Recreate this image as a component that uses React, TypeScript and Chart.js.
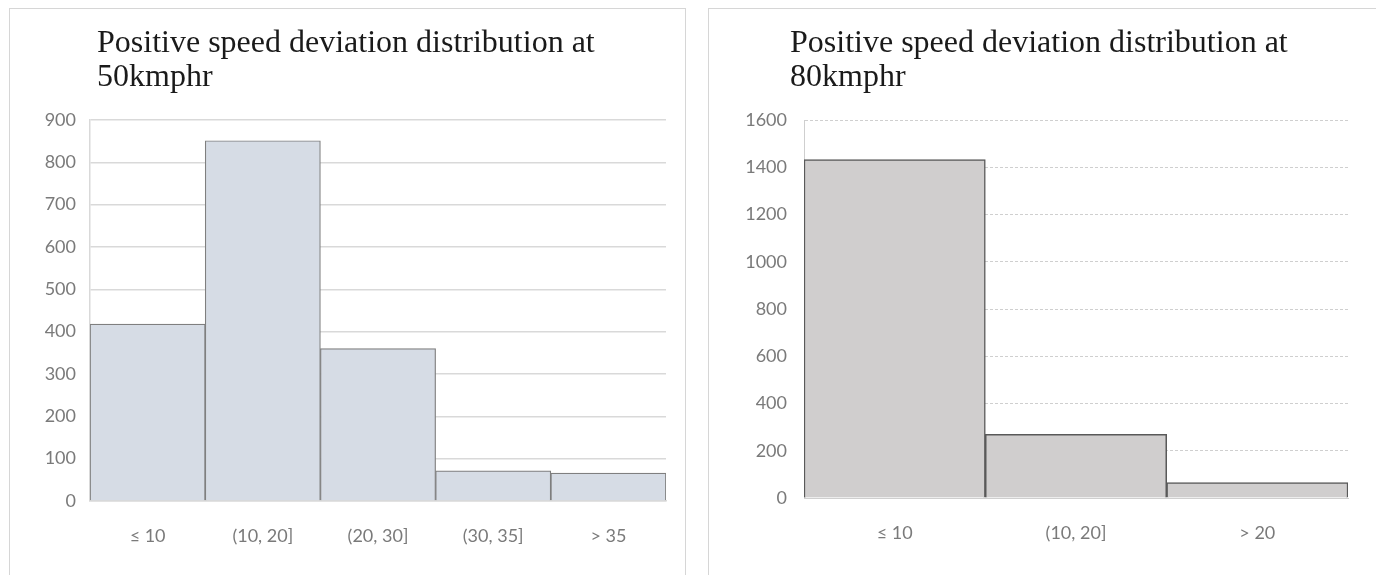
import React, { useEffect, useRef } from "react";
import { Chart, registerables } from "chart.js";

Chart.register(...registerables);

// ---- data ----
const leftTitle = ["Positive speed deviation distribution at", "50kmphr"];
const leftCategories = ["≤ 10", "(10, 20]", "(20, 30]", "(30, 35]", "> 35"];
const leftValues = [418, 851, 360, 71, 66];
const leftYTicks = [0, 100, 200, 300, 400, 500, 600, 700, 800, 900];

const rightTitle = ["Positive speed deviation distribution at", "80kmphr"];
const rightCategories = ["≤ 10", "(10, 20]", "> 20"];
const rightValues = [1432, 270, 65];
const rightYTicks = [0, 200, 400, 600, 800, 1000, 1200, 1400, 1600];

const panelTitle = {
  id: "panelTitle",
  afterDraw(chart: any, _args: any, opts: any) {
    const ctx = chart.ctx;
    ctx.save();
    ctx.font = opts.font;
    ctx.fillStyle = opts.color;
    ctx.textAlign = "left";
    ctx.textBaseline = "middle";
    (opts.lines as string[]).forEach((l, i) => ctx.fillText(l, opts.x, opts.y + i * opts.lineHeight));
    ctx.restore();
  },
};

type PanelProps = {
  title: string[];
  categories: string[];
  values: number[];
  yTicks: number[];
  width: number;
  height: number;
  fill: string;
  stroke: string;
  barBorder: number;
  gridColor: string;
  gridWidth: number;
  dash: number[];
  padding: { left: number; right: number; top: number; bottom: number };
  yAxisWidth: number;
  yTickPad: number;
  titleX: number;
};

function Panel(p: PanelProps) {
  const ref = useRef<HTMLCanvasElement | null>(null);
  useEffect(() => {
    if (!ref.current) return;
    const tickFont = { family: "Lato, 'Liberation Sans', sans-serif", size: 18 };
    const chart = new Chart(ref.current, {
      type: "bar",
      data: {
        labels: p.categories,
        datasets: [
          {
            data: p.values,
            backgroundColor: p.fill,
            borderColor: p.stroke,
            borderWidth: p.barBorder,
            borderSkipped: "bottom",
            categoryPercentage: 1,
            barPercentage: 1,
          },
        ],
      },
      options: {
        animation: false,
        responsive: false,
        devicePixelRatio: 1,
        layout: { padding: p.padding },
        plugins: {
          legend: { display: false },
          tooltip: { enabled: false },
          title: { display: false },
          panelTitle: {
            lines: p.title,
            x: p.titleX,
            y: 35,
            lineHeight: 34,
            font: "32px 'Liberation Serif', 'Times New Roman', serif",
            color: "#1a1a1a",
          },
        } as any,
        scales: {
          x: {
            grid: { display: false, drawTicks: false },
            border: { display: true, color: p.gridColor, width: p.gridWidth, dash: p.dash },
            ticks: { color: "#7a7a7a", font: tickFont, padding: 24, maxRotation: 0 },
            afterFit: (s: any) => {
              s.height = 45;
            },
          },
          y: {
            min: p.yTicks[0],
            max: p.yTicks[p.yTicks.length - 1],
            grid: { color: p.gridColor, lineWidth: p.gridWidth, drawTicks: false },
            border: { display: true, color: p.gridColor, width: p.gridWidth, dash: p.dash },
            afterBuildTicks: (s: any) => {
              s.ticks = p.yTicks.map((v) => ({ value: v }));
            },
            ticks: {
              color: "#7a7a7a",
              font: tickFont,
              padding: p.yTickPad,
              callback: (v: any) => String(v),
            },
            afterFit: (s: any) => {
              s.width = p.yAxisWidth;
            },
          },
        },
      },
      plugins: [panelTitle as any],
    });
    return () => chart.destroy();
  }, []);
  return <canvas ref={ref} width={p.width} height={p.height} style={{ display: "block", width: p.width, height: p.height }} />;
}

export default function App() {
  return (
    <div style={{ position: "fixed", left: 0, top: 0, width: 1376, height: 575, background: "#fff", overflow: "hidden" }}>
      <div
        style={{
          position: "absolute",
          left: 9,
          top: 8,
          width: 677,
          height: 600,
          border: "1px solid #d6d6d6",
          boxSizing: "border-box",
        }}
      />
      <div
        style={{
          position: "absolute",
          left: 708,
          top: 8,
          width: 700,
          height: 600,
          border: "1px solid #d6d6d6",
          boxSizing: "border-box",
        }}
      />
      <div style={{ position: "absolute", left: 10, top: 9 }}>
        <Panel
          title={leftTitle}
          categories={leftCategories}
          values={leftValues}
          yTicks={leftYTicks}
          width={675}
          height={566}
          fill="#D6DCE5"
          stroke="#7f7f7f"
          barBorder={1.2}
          gridColor="#d9d9d9"
          gridWidth={1.5}
          dash={[]}
          padding={{ left: 10, right: 19, top: 111, bottom: 29 }}
          yAxisWidth={70}
          yTickPad={14}
          titleX={87}
        />
      </div>
      <div style={{ position: "absolute", left: 709, top: 9 }}>
        <Panel
          title={rightTitle}
          categories={rightCategories}
          values={rightValues}
          yTicks={rightYTicks}
          width={667}
          height={566}
          fill="#D0CECE"
          stroke="#595959"
          barBorder={1.5}
          gridColor="#cfcfcf"
          gridWidth={1}
          dash={[3, 2]}
          padding={{ left: 15, right: 28, top: 111, bottom: 32 }}
          yAxisWidth={80}
          yTickPad={17}
          titleX={81}
        />
      </div>
    </div>
  );
}
